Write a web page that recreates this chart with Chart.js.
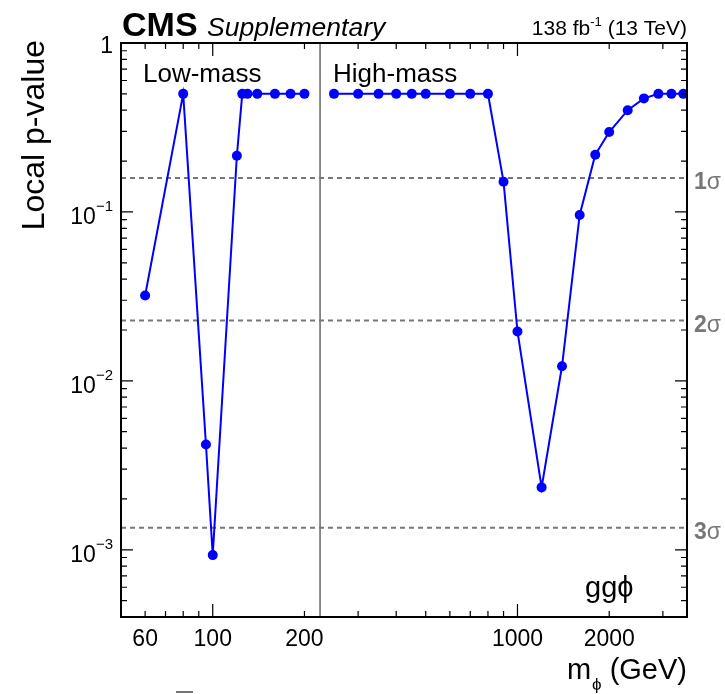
<!DOCTYPE html>
<html>
<head>
<meta charset="utf-8">
<script src="https://cdn.jsdelivr.net/npm/chart.js@4"></script>
<style>
  body { margin: 0; background: #fff; }
  canvas { display: block; }
</style>
</head>
<body>
<canvas id="myChart" width="725" height="694"></canvas>
<script>
// p-value local vs masa
const lowMass = [60, 80, 95, 100, 120, 125, 130, 140, 160, 180, 200];
const lowP = [0.032, 0.5, 0.0042, 0.00093, 0.215, 0.5, 0.5, 0.5, 0.5, 0.5, 0.5];
const highMass = [250, 300, 350, 400, 450, 500, 600, 700, 800, 900, 1000, 1200, 1400, 1600, 1800, 2000, 2300, 2600, 2900, 3200, 3500];
const highP = [0.5, 0.5, 0.5, 0.5, 0.5, 0.5, 0.5, 0.5, 0.5, 0.151, 0.0196, 0.00234, 0.0122, 0.096, 0.218, 0.297, 0.40, 0.47, 0.5, 0.5, 0.5];
const sigmaP = [0.1587, 0.02275, 0.00135];
const sigmaLabels = ['1', '2', '3'];
const xTickLabels = [60, 100, 200, 1000, 2000];
const yTickValues = [1, 0.1, 0.01, 0.001];
const yTickExp = ['', '\u22121', '\u22122', '\u22123'];
const xRange = [50, 3600];
const yRange = [4e-4, 1];
const splitMass = 225;

const FONT = '"Liberation Sans", Arial, Helvetica, sans-serif';
const BLUE = '#0000ff';

const toPoints = (xs, ys) => xs.map((v, i) => ({ x: v, y: ys[i] }));

const datasets = [
  {
    data: toPoints(lowMass, lowP),
    borderColor: BLUE, backgroundColor: BLUE,
    borderWidth: 2, pointRadius: 5, pointBorderWidth: 0, order: 0
  },
  {
    data: toPoints(highMass, highP),
    borderColor: BLUE, backgroundColor: BLUE,
    borderWidth: 2, pointRadius: 5, pointBorderWidth: 0, order: 0
  },
  {
    data: [{ x: splitMass, y: yRange[0] }, { x: splitMass, y: yRange[1] }],
    borderColor: '#666', borderWidth: 1.5, pointRadius: 0, order: 2
  }
];
sigmaP.forEach(p => {
  datasets.push({
    data: [{ x: xRange[0], y: p }, { x: xRange[1], y: p }],
    borderColor: '#777', borderWidth: 2, borderDash: [5, 4],
    pointRadius: 0, order: 1
  });
});

// marco, ticks y textos al estilo ROOT
const rootStyle = {
  id: 'rootStyle',
  afterDraw(chart) {
    const { ctx, chartArea: a, scales: { x, y } } = chart;
    ctx.save();

    // ticks eje x (abajo y arriba)
    ctx.strokeStyle = '#000';
    ctx.lineWidth = 1.2;
    for (let d = 10; d <= 1000; d *= 10) {
      for (let k = 1; k < 10; k++) {
        const v = k * d;
        if (v <= xRange[0] || v >= xRange[1]) continue;
        const px = x.getPixelForValue(v);
        const len = k === 1 ? 13 : 6;
        ctx.beginPath();
        ctx.moveTo(px, a.bottom); ctx.lineTo(px, a.bottom - len);
        ctx.moveTo(px, a.top); ctx.lineTo(px, a.top + len);
        ctx.stroke();
      }
    }
    // ticks eje y (izquierda y derecha)
    for (let d = 1e-4; d < 1; d *= 10) {
      for (let k = 1; k < 10; k++) {
        const v = k * d;
        if (v <= yRange[0] || v >= yRange[1]) continue;
        const py = y.getPixelForValue(v);
        const len = k === 1 ? 12 : 6;
        ctx.beginPath();
        ctx.moveTo(a.left, py); ctx.lineTo(a.left + len, py);
        ctx.moveTo(a.right, py); ctx.lineTo(a.right - len, py);
        ctx.stroke();
      }
    }

    // marco
    ctx.lineWidth = 2;
    ctx.strokeRect(a.left, a.top, a.right - a.left, a.bottom - a.top);

    ctx.fillStyle = '#000';
    // etiquetas eje x
    ctx.font = '23px ' + FONT;
    ctx.textAlign = 'center';
    ctx.textBaseline = 'alphabetic';
    xTickLabels.forEach(v => {
      ctx.fillText(String(v), x.getPixelForValue(v), a.bottom + 29);
    });

    // etiquetas eje y
    yTickValues.forEach((v, i) => {
      const py = y.getPixelForValue(v);
      ctx.textAlign = 'right';
      if (!yTickExp[i]) {
        ctx.font = '23px ' + FONT;
        ctx.fillText('1', a.left - 8, py + 10);
      } else {
        ctx.font = '15px ' + FONT;
        const ew = ctx.measureText(yTickExp[i]).width;
        ctx.fillText(yTickExp[i], a.left - 8, py - 1);
        ctx.font = '23px ' + FONT;
        ctx.fillText('10', a.left - 8 - ew, py + 12);
      }
    });

    // titulo eje y
    ctx.save();
    ctx.translate(44, a.top - 3);
    ctx.rotate(-Math.PI / 2);
    ctx.font = '32px ' + FONT;
    ctx.textAlign = 'right';
    ctx.textBaseline = 'alphabetic';
    ctx.fillText('Local p-value', 0, 0);
    ctx.restore();

    // titulo eje x: m_phi (GeV)
    ctx.font = '29px ' + FONT;
    ctx.textAlign = 'right';
    const rest = ' (GeV)';
    const rw = ctx.measureText(rest).width;
    ctx.fillText(rest, a.right, 679);
    ctx.font = '17px ' + FONT;
    const sw = ctx.measureText('\u03d5').width;
    ctx.fillText('\u03d5', a.right - rw, 690);
    ctx.font = '29px ' + FONT;
    ctx.fillText('m', a.right - rw - sw - 1, 679);

    // cabecera
    ctx.textAlign = 'left';
    ctx.font = 'bold 34px ' + FONT;
    ctx.fillText('CMS', a.left + 1, 36);
    ctx.font = 'italic 26.5px ' + FONT;
    ctx.fillText('Supplementary', 207, 36);

    ctx.textAlign = 'right';
    ctx.font = '21px ' + FONT;
    const tail = ' (13 TeV)';
    const tw = ctx.measureText(tail).width;
    ctx.fillText(tail, a.right, 35);
    ctx.font = '13px ' + FONT;
    const ew2 = ctx.measureText('-1').width;
    ctx.fillText('-1', a.right - tw, 26);
    ctx.font = '21px ' + FONT;
    ctx.fillText('138 fb', a.right - tw - ew2, 35);

    // etiquetas de region
    ctx.textAlign = 'left';
    ctx.font = '26px ' + FONT;
    ctx.fillText('Low-mass', 143, 82);
    ctx.fillText('High-mass', 333, 82);
    ctx.font = '29px ' + FONT;
    ctx.fillText('gg\u03d5', 585, 597);

    // etiquetas sigma
    ctx.fillStyle = '#777';
    sigmaP.forEach((p, i) => {
      const py = y.getPixelForValue(p);
      ctx.font = 'bold 23px ' + FONT;
      ctx.textAlign = 'left';
      ctx.fillText(sigmaLabels[i], a.right + 7, py + 11);
      const w = ctx.measureText(sigmaLabels[i]).width;
      ctx.font = '23px ' + FONT;
      ctx.fillText('\u03c3', a.right + 7 + w, py + 11);
    });

    // pequena marca bajo el eje
    ctx.strokeStyle = '#444';
    ctx.lineWidth = 1.5;
    ctx.beginPath();
    ctx.moveTo(176, 692); ctx.lineTo(193, 692);
    ctx.stroke();

    ctx.restore();
  }
};

new Chart(document.getElementById('myChart'), {
  type: 'line',
  data: { datasets: datasets },
  options: {
    responsive: false,
    animation: false,
    layout: { padding: { left: 121, right: 38, top: 43, bottom: 77 } },
    plugins: { legend: { display: false }, tooltip: { enabled: false } },
    scales: {
      x: { type: 'logarithmic', min: xRange[0], max: xRange[1], display: false },
      y: { type: 'logarithmic', min: yRange[0], max: yRange[1], display: false }
    }
  },
  plugins: [rootStyle]
});
</script>
</body>
</html>
